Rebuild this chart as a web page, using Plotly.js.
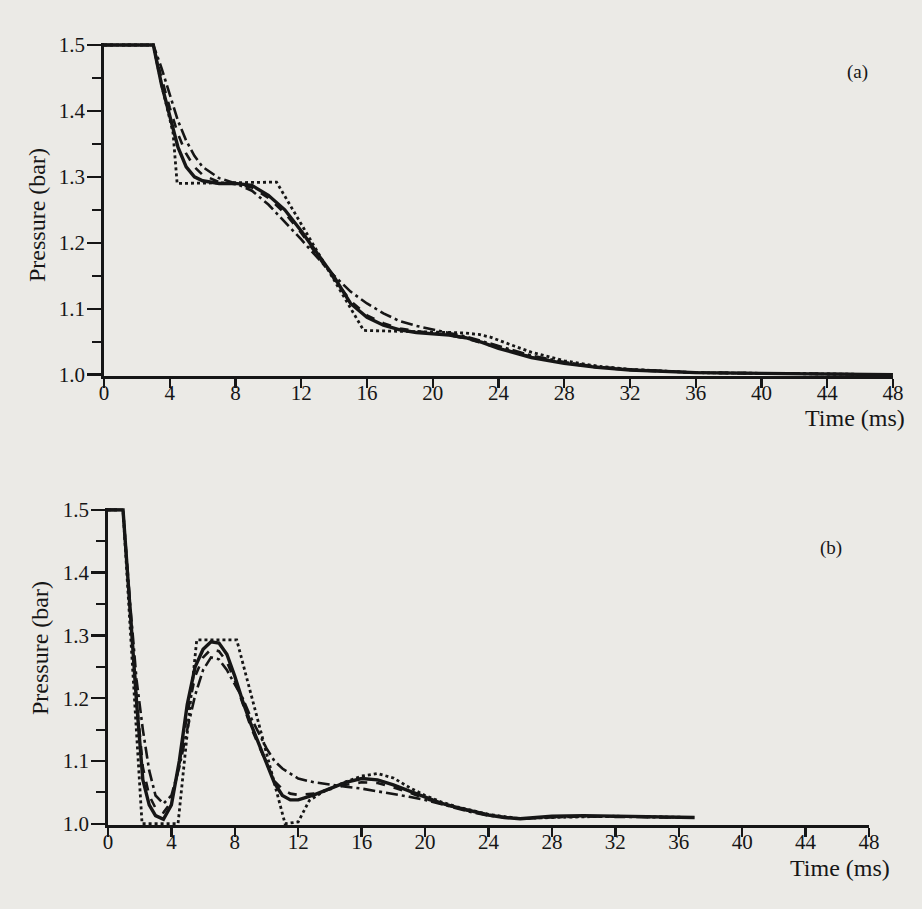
<!DOCTYPE html>
<html>
<head>
<meta charset="utf-8">
<script src="https://cdn.plot.ly/plotly-3.0.1.min.js"></script>
<style>html,body{margin:0;padding:0;background:#ebeae6;}#chart{width:922px;height:909px;}</style>
</head>
<body>
<div id="chart"></div>
<script>
// ---- Panel (a) ----
var tA = [0, 3, 3.5, 4, 4.5, 5, 5.5, 6, 7, 8, 9, 10, 11, 12, 13, 14, 15, 16, 17, 18, 19, 20, 21, 22, 23, 24, 26, 28, 30, 32, 34, 36, 40, 44, 48];
var pA_solid = [1.5, 1.5, 1.44, 1.39, 1.345, 1.315, 1.3, 1.294, 1.29, 1.29, 1.287, 1.272, 1.25, 1.218, 1.182, 1.148, 1.108, 1.087, 1.075, 1.068, 1.064, 1.062, 1.06, 1.056, 1.049, 1.04, 1.026, 1.017, 1.011, 1.007, 1.005, 1.003, 1.002, 1.001, 1.0];
var pA_dash = [1.5, 1.5, 1.45, 1.405, 1.365, 1.335, 1.315, 1.303, 1.292, 1.289, 1.284, 1.268, 1.245, 1.215, 1.18, 1.145, 1.112, 1.09, 1.078, 1.07, 1.066, 1.063, 1.06, 1.055, 1.048, 1.04, 1.027, 1.018, 1.011, 1.007, 1.005, 1.003, 1.002, 1.001, 1.0];
var pA_dashdot = [1.5, 1.5, 1.465, 1.425, 1.385, 1.355, 1.332, 1.315, 1.298, 1.29, 1.279, 1.258, 1.232, 1.205, 1.177, 1.15, 1.126, 1.108, 1.093, 1.081, 1.074, 1.068, 1.063, 1.058, 1.051, 1.043, 1.029, 1.019, 1.012, 1.008, 1.005, 1.003, 1.002, 1.001, 1.0];
var tA_dot = [0, 3, 3.5, 4, 4.2, 4.45, 10.5, 15.8, 18, 20, 21, 22, 22.8, 23.5, 24, 25, 26, 28, 30, 32, 36, 40, 44, 48];
var pA_dot = [1.5, 1.5, 1.44, 1.39, 1.367, 1.29, 1.292, 1.067, 1.066, 1.065, 1.064, 1.063, 1.061, 1.057, 1.052, 1.043, 1.034, 1.021, 1.013, 1.008, 1.003, 1.002, 1.001, 1.0];

// ---- Panel (b) ----
var tB = [0, 0.95, 1.4, 1.8, 2.2, 2.6, 3.0, 3.5, 4.0, 4.5, 5.0, 5.5, 6.0, 6.5, 7.0, 7.5, 8.0, 8.5, 9.0, 9.5, 10, 10.5, 11, 11.5, 12, 13, 14, 15, 16, 17, 18, 19, 20, 21, 22, 23, 24, 25, 26, 27, 28, 30, 32, 34, 36, 37];
var pB_solid = [1.5, 1.5, 1.34, 1.195, 1.07, 1.03, 1.013, 1.007, 1.03, 1.1, 1.19, 1.25, 1.278, 1.29, 1.288, 1.27, 1.235, 1.195, 1.16, 1.128, 1.097, 1.065, 1.045, 1.038, 1.038, 1.046, 1.056, 1.066, 1.072, 1.07, 1.062, 1.052, 1.042, 1.033, 1.026, 1.02, 1.014, 1.01, 1.008, 1.01, 1.012, 1.013, 1.012, 1.011, 1.01, 1.01];
var pB_dash = [1.5, 1.5, 1.34, 1.2, 1.09, 1.045, 1.025, 1.018, 1.035, 1.095, 1.175, 1.235, 1.265, 1.278, 1.275, 1.258, 1.228, 1.19, 1.155, 1.125, 1.095, 1.068, 1.055, 1.048, 1.046, 1.048, 1.055, 1.062, 1.066, 1.065, 1.058, 1.05, 1.04, 1.032, 1.025, 1.019, 1.014, 1.01, 1.008, 1.01, 1.011, 1.012, 1.012, 1.011, 1.01, 1.01];
var pB_dashdot = [1.5, 1.5, 1.35, 1.23, 1.15, 1.085, 1.045, 1.032, 1.045, 1.09, 1.15, 1.205, 1.245, 1.265, 1.262, 1.245, 1.222, 1.2, 1.17, 1.145, 1.12, 1.1, 1.088, 1.08, 1.072, 1.066, 1.062, 1.059, 1.056, 1.052, 1.047, 1.043, 1.038, 1.031, 1.024, 1.018, 1.013, 1.01, 1.008, 1.009, 1.01, 1.012, 1.011, 1.01, 1.01, 1.01];
var tB_dot = [0, 0.95, 2.15, 4.42, 5.6, 8.12, 11.17, 12.0, 12.7, 13.5, 14, 15, 16, 17, 18, 19, 20, 21, 22, 24, 26, 28, 32, 37];
var pB_dot = [1.5, 1.5, 1.0, 1.0, 1.293, 1.293, 1.0, 1.003, 1.037, 1.05, 1.056, 1.067, 1.076, 1.08, 1.073, 1.058, 1.045, 1.035, 1.027, 1.015, 1.008, 1.01, 1.012, 1.01];

var xTicks = [0, 4, 8, 12, 16, 20, 24, 28, 32, 36, 40, 44, 48];
var yTicks = [1.0, 1.1, 1.2, 1.3, 1.4, 1.5];
var yTickText = ["1.0", "1.1", "1.2", "1.3", "1.4", "1.5"];

var ink = "#161616";
var dashDot = "12px,4px,3px,4px";

function tr(x, y, xa, ya, dash, w) {
  return {x: x, y: y, xaxis: xa, yaxis: ya, type: "scatter", mode: "lines",
          line: {color: ink, width: w, dash: dash}, hoverinfo: "skip", showlegend: false};
}

var data = [
  tr(tA, pA_dashdot, "x", "y", dashDot, 2.6),
  tr(tA, pA_dash, "x", "y", "dash", 2.6),
  tr(tA_dot, pA_dot, "x", "y", "dot", 2.8),
  tr(tA, pA_solid, "x", "y", "solid", 3.4),
  tr(tB, pB_dashdot, "x2", "y2", dashDot, 2.6),
  tr(tB, pB_dash, "x2", "y2", "dash", 2.6),
  tr(tB_dot, pB_dot, "x2", "y2", "dot", 2.8),
  tr(tB, pB_solid, "x2", "y2", "solid", 3.4)
];

var tickFont = {family: "Liberation Serif", size: 21, color: ink};

function xax(dom, anchor) {
  return {domain: dom, anchor: anchor, range: [0, 48], tickmode: "array", tickvals: xTicks,
          ticktext: xTicks.map(String), ticks: "outside", ticklen: 9, tickwidth: 2.4, tickcolor: ink,
          ticklabelstandoff: -13,
          showline: true, linewidth: 2.8, linecolor: ink, showgrid: false, zeroline: false,
          tickfont: tickFont, fixedrange: true};
}
function yax(dom, anchor) {
  return {domain: dom, anchor: anchor, range: [0.998, 1.503], tickmode: "array", tickvals: yTicks,
          ticktext: yTickText, ticks: "outside", ticklen: 14, tickwidth: 2.4, tickcolor: ink,
          ticklabelstandoff: -2,
          minor: {tickvals: [1.05, 1.15, 1.25, 1.35, 1.45], ticks: "outside", ticklen: 9, tickwidth: 2.2, tickcolor: ink},
          showline: true, linewidth: 2.8, linecolor: ink, showgrid: false, zeroline: false,
          tickfont: tickFont, fixedrange: true};
}

var titleFont = {family: "Liberation Serif", size: 24, color: ink};

var layout = {
  width: 922, height: 909,
  margin: {l: 0, r: 0, t: 0, b: 0},
  paper_bgcolor: "#ebeae6", plot_bgcolor: "#ebeae6",
  xaxis: xax([0.1128, 0.9685], "y"),
  yaxis: yax([0.5864, 0.9527], "x"),
  xaxis2: xax([0.1171, 0.9425], "y2"),
  yaxis2: yax([0.0924, 0.4411], "x2"),
  annotations: [
    {text: "Pressure (bar)", xref: "paper", yref: "paper", x: 37 / 922, y: 1 - 215 / 909, textangle: -90,
     showarrow: false, font: titleFont, xanchor: "center", yanchor: "middle"},
    {text: "Pressure (bar)", xref: "paper", yref: "paper", x: 40 / 922, y: 1 - 648 / 909, textangle: -90,
     showarrow: false, font: titleFont, xanchor: "center", yanchor: "middle"},
    {text: "Time (ms)", xref: "paper", yref: "paper", x: 907 / 922, y: 1 - 418 / 909,
     showarrow: false, font: titleFont, xanchor: "right", yanchor: "middle"},
    {text: "Time (ms)", xref: "paper", yref: "paper", x: 892 / 922, y: 1 - 868 / 909,
     showarrow: false, font: titleFont, xanchor: "right", yanchor: "middle"},
    {text: "(a)", xref: "paper", yref: "paper", x: 857 / 922, y: 1 - 72 / 909,
     showarrow: false, font: {family: "Liberation Serif", size: 19, color: ink}, xanchor: "center", yanchor: "middle"},
    {text: "(b)", xref: "paper", yref: "paper", x: 831 / 922, y: 1 - 548 / 909,
     showarrow: false, font: {family: "Liberation Serif", size: 19, color: ink}, xanchor: "center", yanchor: "middle"}
  ]
};

Plotly.newPlot("chart", data, layout, {displayModeBar: false, staticPlot: true});
</script>
</body>
</html>
